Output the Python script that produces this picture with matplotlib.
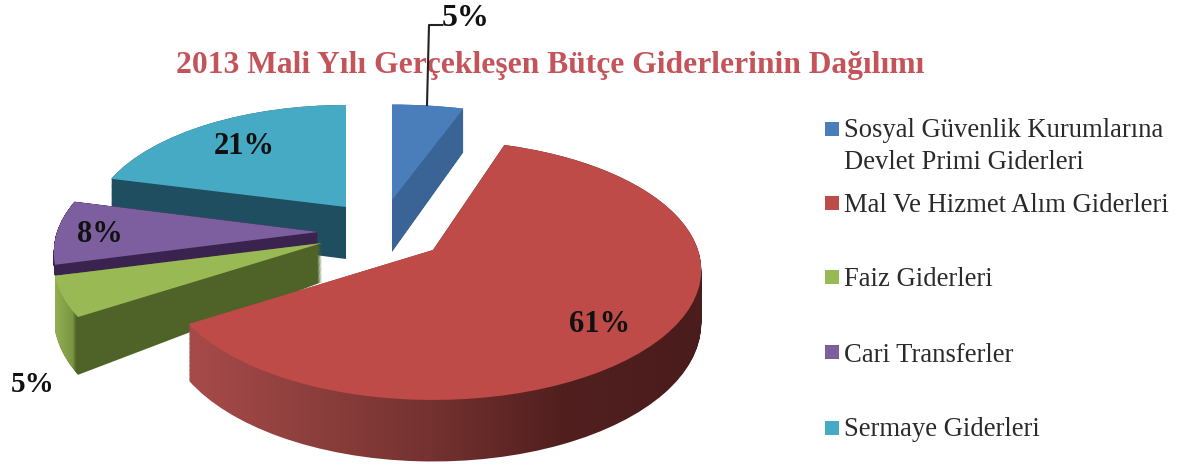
import numpy as np
import matplotlib
matplotlib.use('Agg')
import matplotlib.pyplot as plt
from matplotlib.patches import PathPatch, Rectangle
from matplotlib.path import Path
from matplotlib.transforms import Transform

# Veriler
kategoriler = ['Sosyal Güvenlik Kurumlarına\nDevlet Primi Giderleri',
               'Mal Ve Hizmet Alım Giderleri',
               'Faiz Giderleri',
               'Cari Transferler',
               'Sermaye Giderleri']
yuzdeler = [5, 61, 5, 8, 21]
baslik = '2013 Mali Yılı Gerçekleşen Bütçe Giderlerinin Dağılımı'

renkler = ['#4a7ebb', '#be4b48', '#98b954', '#7d5fa0', '#46aac4']

# Dilimlerin resimdeki yeri (piksel): tepe noktasi, olcek, cizim sirasi
tepe = [(392, 200), (433, 250), (322, 243), (318, 232), (346, 207)]
olcek = [(1.0, 0.87), (1.0, 1.0), (1.0, 1.0), (0.985, 1.0), (0.95, 0.93)]
derinlik = [(52, 50), (52, 52), (39, 53), (12, 11), (52, 52)]
sira = [2, 4, 3, 1, 0]

# Yan yuzey renkleri: (x, renk) duraklari
yan_renk = [[(380, '#3a6496'), (470, '#3a6496')],
            [(190, '#a84a4a'), (300, '#8f403e'), (430, '#743230'), (560, '#521f1f'), (705, '#4a1c1c')],
            [(50, '#9ab556'), (72, '#7a9642'), (76, '#4f6228'), (330, '#4f6228')],
            [(50, '#3b2350'), (330, '#3b2350')],
            [(100, '#1f4e60'), (350, '#1f4e60')]]

A, B, P = 265, 126.7, 0.155


class PiePlane(Transform):
    """Birim pastayi egik duzleme yansitir, t yan yuzey icin asagi kaydirir."""
    input_dims = 2
    output_dims = 2

    def __init__(self, tepe_xy, oran, kalinlik=(0, 0), t=0):
        super().__init__()
        self.tepe_xy, self.oran, self.kalinlik, self.t = tepe_xy, oran, kalinlik, t

    def transform_non_affine(self, values):
        x, y = values[:, 0], values[:, 1]
        s = 1 / (1 + P * y)
        r = np.minimum(np.hypot(x, y), 1)
        d = (self.kalinlik[0] + (self.kalinlik[1] - self.kalinlik[0]) * r) * s * self.t
        return np.column_stack([self.tepe_xy[0] + A * self.oran[0] * x * s,
                                self.tepe_xy[1] - B * self.oran[1] * y * s + d])


def hex_rgb(c):
    return matplotlib.colors.to_rgb(c)


fig = plt.figure(figsize=(11.83, 4.68), dpi=100)
ax = fig.add_axes([0, 0, 1, 1])
plt.rcParams['font.family'] = ['Liberation Serif', 'DejaVu Serif']

dilimler, _ = ax.pie(yuzdeler, startangle=90, counterclock=False, colors=renkler)

for ii, w in enumerate(dilimler):
    w.set_transform(PiePlane(tepe[ii], olcek[ii]) + ax.transData)
    w.set_zorder(2 * sira[ii] + 1)
    w.set_linewidth(0)

    # yan yuzey: ust yuzeyin asagi kaydirilmis kopyalari + yatay renk gecisi
    katlar = [PiePlane(tepe[ii], olcek[ii], derinlik[ii], t).transform_path(w.get_path())
              for t in np.linspace(0, 1, 45)]
    yol = Path.make_compound_path(*katlar)
    xs = [d[0] for d in yan_renk[ii]]
    rgb = np.array([hex_rgb(d[1]) for d in yan_renk[ii]])
    kolon = np.arange(0, 1183)
    gecis = np.stack([np.interp(kolon, xs, rgb[:, k]) for k in range(3)], axis=-1)[None, :, :]
    im = ax.imshow(gecis, extent=(0, 1183, 468, 0), aspect='auto', zorder=2 * sira[ii])
    im.set_clip_path(PathPatch(yol, transform=ax.transData))

ax.set_aspect('auto')
ax.set_xlim(0, 1183)
ax.set_ylim(468, 0)
ax.axis('off')

# Baslik
ax.text(550, 65, baslik, color='#c4545a', fontsize=22.7, fontweight='bold',
        ha='center', va='center', zorder=20)

# Yuzde etiketleri
etiket_yer = [(466, 18), (600, 325), (33, 384), (100, 234), (244, 147)]
etiket_boy = [23, 22, 21, 22, 22]
for ii, v in enumerate(yuzdeler):
    ax.text(etiket_yer[ii][0], etiket_yer[ii][1], f'{v}%', fontsize=etiket_boy[ii],
            fontweight='bold', color='#111111', ha='center', va='center', zorder=30)

ax.plot([427, 429, 442], [105, 25, 25], color='#222222', lw=1.5, zorder=25)

# Gosterge
kare_y = [128.5, 203, 276.5, 351.5, 427.5]
yazi_y = [146.5, 206, 280, 355, 430]
for ii, etiket in enumerate(kategoriler):
    ax.add_patch(Rectangle((825, kare_y[ii] - 7), 14, 14, color=renkler[ii], lw=0, zorder=20))
    ax.text(844, yazi_y[ii], etiket, fontsize=19.2, color='#2a2a2a', va='center', ha='left',
            linespacing=1.4, zorder=20)

fig.savefig('out.png', dpi=100)
